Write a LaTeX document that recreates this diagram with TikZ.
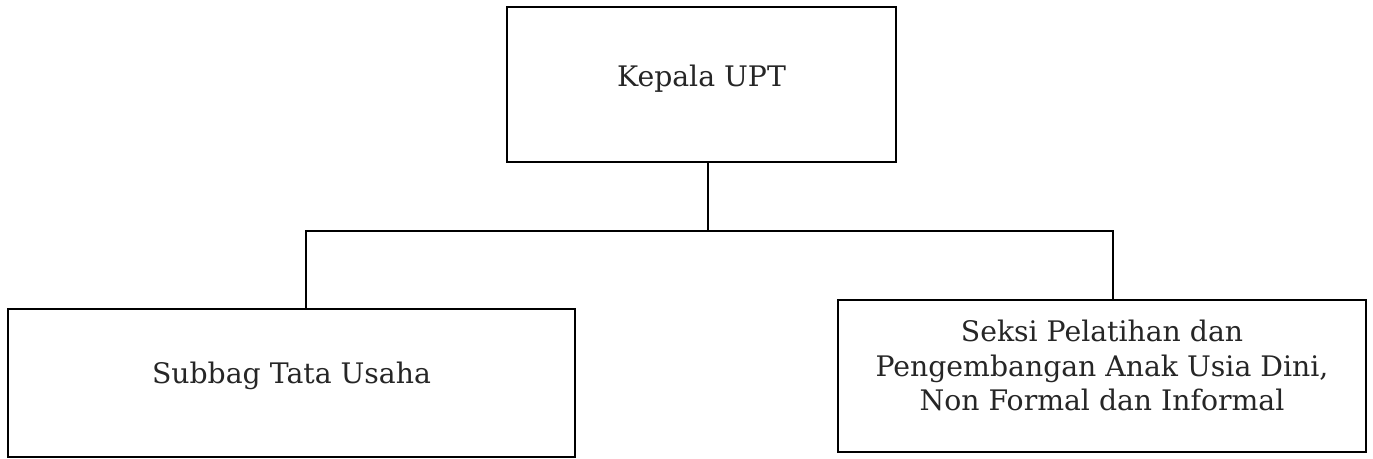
\documentclass[tikz,border=0pt]{standalone}
\usepackage{fontspec}
\setmainfont{DejaVu Serif}
\begin{document}
\begin{tikzpicture}[x=1pt,y=-1pt,
  box/.style={draw, line width=2pt, inner sep=0pt},
  lbl/.style={inner sep=0pt, align=center, text=black!85,
    font=\fontsize{28.3}{34.5}\selectfont},
  link/.style={line width=2pt}]
\useasboundingbox (0,0) rectangle (1373,458);
\node[box, minimum width=389pt, minimum height=155pt] (k) at (701.5,84.5) {};
\node[box, minimum width=567pt, minimum height=148pt] (s) at (291.5,382.5) {};
\node[box, minimum width=528pt, minimum height=152pt] (p) at (1102,375.5) {};
\node[lbl] (kt) at ([yshift=6pt]k.center) {Kepala UPT};
\node[lbl] (st) at ([yshift=7pt]s.center) {Subbag Tata Usaha};
\node[lbl] (pt) at ([yshift=10pt]p.center)
  {Seksi Pelatihan dan\\Pengembangan Anak Usia Dini,\\Non Formal dan Informal};
\coordinate (hl) at (306,231);
\coordinate (hr) at (1113,231);
\draw[link] ([xshift=6.5pt]k.south) -- ([xshift=6.5pt]k.south |- hl);
\draw[link] (s.north -| hl) -- (hl) -- (hr) -- (p.north -| hr);
\end{tikzpicture}
\end{document}
